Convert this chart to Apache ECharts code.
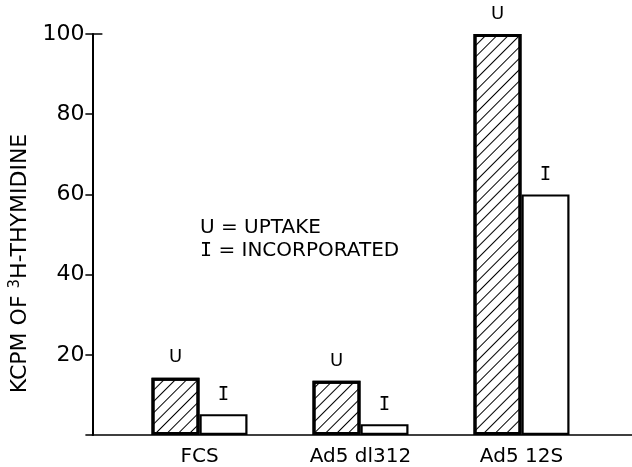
<!DOCTYPE html>
<html>
<head>
<meta charset="utf-8">
<script src="https://cdn.jsdelivr.net/npm/echarts@6/dist/echarts.min.js"></script>
<style>
html,body{margin:0;padding:0;background:#fff;}
#chart{width:632px;height:467px;}
</style>
</head>
<body>
<div id="chart"></div>
<script>
var categories = ['FCS', 'Ad5 dl312', 'Ad5 12S'];
var uptake = [14.3, 13.5, 100];
var incorporated = [5.2, 2.7, 60];
var yTicks = [0, 20, 40, 60, 80, 100];
var uptakeLabel = 'U';
var incorporatedLabel = 'I';
var yAxisName = 'KCPM OF {s|3}H-THYMIDINE';

var FONT = 'DejaVu Sans';
var chart = echarts.init(document.getElementById('chart'), null, {renderer: 'canvas'});

var option = {
  backgroundColor: '#fff',
  animation: false,
  title: {
    text: 'U = UPTAKE\n{i|I} = INCORPORATED',
    left: 195, top: 211,
    textStyle: {
      fontFamily: FONT, fontSize: 20, fontWeight: 'normal', color: '#000', lineHeight: 23,
      rich: { i: { fontFamily: 'DejaVu Sans Mono', fontSize: 20, color: '#000', lineHeight: 23 } }
    }
  },
  grid: [
    {left: 119, right: 30, top: 34, bottom: 32},
    {left: 90, right: 0, top: 34, bottom: 32}
  ],
  xAxis: [
    {
      type: 'category', gridIndex: 0, data: categories,
      axisLine: {show: false}, axisTick: {show: false},
      axisLabel: {fontFamily: FONT, fontSize: 20, color: '#000', margin: 12}
    },
    {
      type: 'value', gridIndex: 1, min: 0, max: 1,
      axisLine: {show: true, onZero: false, lineStyle: {color: '#000', width: 1.5}},
      axisTick: {show: false}, axisLabel: {show: false}, splitLine: {show: false}
    }
  ],
  yAxis: [
    {type: 'value', gridIndex: 0, min: 0, max: 100, show: false},
    {
      type: 'value', gridIndex: 1, min: yTicks[0], max: yTicks[yTicks.length - 1], interval: 20,
      axisLine: {show: true, lineStyle: {color: '#000', width: 2}},
      axisTick: {show: true, length: 7, lineStyle: {color: '#000', width: 1.5}},
      splitLine: {show: false},
      axisLabel: {
        fontFamily: FONT, fontSize: 22, color: '#000', margin: 8,
        formatter: function (v) { return v === 0 ? '' : String(v); }
      },
      name: yAxisName,
      nameLocation: 'middle', nameGap: 52, nameRotate: 90,
      nameTextStyle: {
        fontFamily: FONT, fontSize: 22, color: '#000', padding: [0, 58, 0, 0],
        rich: { s: { fontFamily: FONT, fontSize: 15, color: '#000', verticalAlign: 'top', padding: [0, 0, 10, 0] } }
      }
    },
    {
      type: 'value', gridIndex: 1, min: 0, max: 100, interval: 20, position: 'left',
      axisLine: {show: false}, splitLine: {show: false}, axisLabel: {show: false},
      axisTick: {show: true, inside: true, length: 10, customValues: [100], lineStyle: {color: '#000', width: 1.5}}
    }
  ],
  series: [
    {
      name: 'Uptake', type: 'bar', xAxisIndex: 0, yAxisIndex: 0,
      data: uptake, barWidth: 48, barGap: '0%',
      itemStyle: {
        color: '#fff', borderColor: '#000', borderWidth: 3,
        decal: {symbol: 'rect', symbolSize: 1, dashArrayX: [1, 0], dashArrayY: [1, 7], rotation: -Math.PI / 4, color: '#000'}
      },
      label: {
        show: true, position: 'top', distance: 11, formatter: uptakeLabel,
        fontFamily: FONT, fontSize: 18, color: '#000'
      }
    },
    {
      name: 'Incorporated', type: 'bar', xAxisIndex: 0, yAxisIndex: 0,
      data: incorporated, barWidth: 48,
      itemStyle: {color: '#fff', borderColor: '#000', borderWidth: 2.2},
      label: {
        show: true, position: 'top', distance: 10, formatter: incorporatedLabel,
        fontFamily: 'DejaVu Sans Mono', fontSize: 19, color: '#000'
      }
    }
  ]
};
chart.setOption(option);
</script>
</body>
</html>
